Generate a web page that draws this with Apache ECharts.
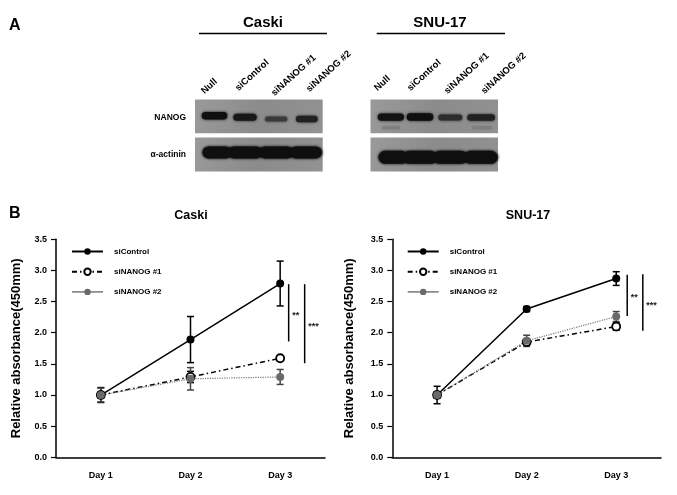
<!DOCTYPE html>
<html><head><meta charset="utf-8">
<script src="https://cdn.jsdelivr.net/npm/echarts@6.0.0/dist/echarts.min.js"></script>
<style>html,body{margin:0;padding:0;background:#fff}#c{width:677px;height:495px}</style>
</head><body><div id="c"></div>
<script>
// ---------- data ----------
const days = ['Day 1', 'Day 2', 'Day 3'];
const seriesNames = ['siControl', 'siNANOG #1', 'siNANOG #2'];

const caskiControl = [1.00, 1.89, 2.79];
const caskiControlErr = [0.12, 0.37, 0.36];
const caskiNanog1 = [1.00, 1.29, 1.59];
const caskiNanog1Err = [0.05, 0.09, 0.04];
const caskiNanog2 = [1.00, 1.26, 1.29];
const caskiNanog2Err = [0.11, 0.18, 0.12];

const snuControl = [1.00, 2.38, 2.87];
const snuControlErr = [0.14, 0.04, 0.11];
const snuNanog1 = [1.00, 1.85, 2.10];
const snuNanog1Err = [0.05, 0.04, 0.06];
const snuNanog2 = [1.00, 1.87, 2.26];
const snuNanog2Err = [0.05, 0.09, 0.08];

const caskiSigLabels = ['**', '***'];
const caskiSigTop = [2.78, 2.78];
const caskiSigBottom = [1.86, 1.51];
const snuSigLabels = ['**', '***'];
const snuSigTop = [2.93, 2.94];
const snuSigBottom = [2.27, 2.03];

const laneLabels = ['Null', 'siControl', 'siNANOG #1', 'siNANOG #2'];
const caskiNanogBand = [1.00, 0.92, 0.55, 0.82];
const caskiActinBand = [1.00, 1.00, 1.00, 1.00];
const snuNanogBand = [0.97, 1.00, 0.68, 0.82];
const snuActinBand = [1.00, 1.00, 1.00, 1.00];
const blotRows = ['NANOG', 'α-actinin'];
const cellLines = ['Caski', 'SNU-17'];

// ---------- styles ----------
const FF = "'Liberation Sans', Arial, Helvetica, sans-serif";
const BLACK = '#000';
const GRAY = '#6a6a6a';
const chart = echarts.init(document.getElementById('c'));

function bandColor(v) {
  const g = Math.round(110 - 95 * v);
  return 'rgb(' + g + ',' + g + ',' + g + ')';
}

// ---------- panel A (blot) ----------
const graphics = [];
function txt(x, y, text, size, align, vAlign, rot) {
  graphics.push({
    type: 'text', x: x, y: y, rotation: rot || 0,
    style: { text: text, font: 'bold ' + size + 'px ' + FF, fill: BLACK, align: align, verticalAlign: vAlign }
  });
}
txt(9, 26, 'A', 16, 'left', 'middle');
txt(9, 214, 'B', 16, 'left', 'middle');

function blot(x0, x1, title, titleX, lineX0, lineX1, labelPos, nanog, actin, geom, actinY, actinH, faint) {
  txt(titleX, 23, title, 15, 'center', 'middle');
  graphics.push({ type: 'line', shape: { x1: lineX0, y1: 33.5, x2: lineX1, y2: 33.5 }, style: { stroke: BLACK, lineWidth: 1.5 } });
  laneLabels.forEach((l, i) => {
    txt(labelPos[i][0], labelPos[i][1], l, 9.5, 'left', 'bottom', 42 * Math.PI / 180);
  });
  [[99.5, 133.3], [137.6, 171.6]].forEach(([t, b]) => {
    graphics.push({
      type: 'rect', shape: { x: x0, y: t, width: x1 - x0, height: b - t },
      style: { fill: new echarts.graphic.LinearGradient(0, 0, 1, 1, [
        { offset: 0, color: '#9a9a9a' }, { offset: 0.5, color: '#8b8b8b' }, { offset: 1, color: '#929292' }]) }
    });
  });
  if (faint) {
    faint.forEach(f => {
      graphics.push({
        type: 'rect', shape: { x: f[0], y: f[2] - 1.5, width: f[1] - f[0], height: 3, r: 1.5 },
        style: { fill: '#7e7e7e', shadowBlur: 3, shadowColor: '#7e7e7e' }
      });
    });
  }
  nanog.forEach((v, i) => {
    const g = geom[i];
    const h = 2.4 + 5 * v;
    const c = bandColor(v);
    graphics.push({
      type: 'rect', shape: { x: g[0], y: g[2] - h / 2, width: g[1] - g[0], height: h, r: h / 2 },
      style: { fill: c, shadowBlur: 3, shadowColor: c }
    });
  });
  const a0 = geom[0][0] + 1, a1 = Math.min(geom[3][1] + 4, x1 - 0.5);
  const cA = bandColor(Math.max.apply(null, actin));
  graphics.push({
    type: 'rect', shape: { x: a0, y: actinY - actinH * 0.4, width: a1 - a0, height: actinH * 0.8, r: actinH * 0.4 },
    style: { fill: cA, shadowBlur: 3, shadowColor: cA }
  });
  actin.forEach((v, i) => {
    const g = geom[i];
    const cx = (g[0] + g[1]) / 2;
    const l = Math.max(cx - 17, a0), r = Math.min(cx + 17, a1);
    const c = bandColor(v);
    graphics.push({
      type: 'rect', shape: { x: l, y: actinY - actinH / 2, width: r - l, height: actinH, r: actinH / 2 },
      style: { fill: c, shadowBlur: 3, shadowColor: c }
    });
  });
}

txt(186, 118, blotRows[0], 8.5, 'right', 'middle');
txt(186, 155, blotRows[1], 8.5, 'right', 'middle');

blot(195, 322.7, cellLines[0], 263, 199, 327,
  [[206, 96], [240, 93], [276, 98], [311, 94]],
  caskiNanogBand, caskiActinBand,
  [[201.7, 227.3, 115.7], [233.3, 256.7, 117.3], [265, 287.3, 119], [296, 317.7, 119]],
  152.5, 12, null);
blot(370.5, 498, cellLines[1], 440, 376.7, 505,
  [[379, 93], [412, 93], [449, 96], [486, 96]],
  snuNanogBand, snuActinBand,
  [[377.7, 404, 117], [406.7, 433.3, 117], [438.3, 462.3, 117.5], [467.3, 495, 117.5]],
  157.3, 13, [[382, 400, 127.7], [472, 492, 127.7]]);

// ---------- panel B (charts) ----------
txt(191, 216, cellLines[0], 12.5, 'center', 'middle');
txt(528, 216, cellLines[1], 12.5, 'center', 'middle');

function errSeries(name, gi, vals, errs, color) {
  return {
    type: 'custom', name: name, xAxisIndex: gi, yAxisIndex: gi, z: 2,
    data: vals.map((v, i) => [i, v, errs[i]]),
    encode: { x: 0, y: 1 },
    renderItem: function (params, api) {
      const x = api.value(0), y = api.value(1), e = api.value(2);
      const t = api.coord([x, y + e]), b = api.coord([x, y - e]);
      const st = { stroke: color, lineWidth: 1.5 };
      return { type: 'group', children: [
        { type: 'line', shape: { x1: t[0], y1: t[1], x2: b[0], y2: b[1] }, style: st },
        { type: 'line', shape: { x1: t[0] - 3.5, y1: t[1], x2: t[0] + 3.5, y2: t[1] }, style: st },
        { type: 'line', shape: { x1: b[0] - 3.5, y1: b[1], x2: b[0] + 3.5, y2: b[1] }, style: st }
      ] };
    }
  };
}
function sigSeries(gi, labels, tops, bottoms, offsets) {
  return {
    type: 'custom', xAxisIndex: gi, yAxisIndex: gi, z: 4, silent: true,
    data: labels.map((l, i) => [2, tops[i], bottoms[i], i]),
    encode: { x: 0, y: 1 },
    renderItem: function (params, api) {
      const i = api.value(3);
      const t = api.coord([2, api.value(1)]), b = api.coord([2, api.value(2)]);
      const x = t[0] + offsets[i];
      return { type: 'group', children: [
        { type: 'line', shape: { x1: x, y1: t[1], x2: x, y2: b[1] }, style: { stroke: BLACK, lineWidth: 1.5 } },
        { type: 'text', x: x + 3.5, y: (t[1] + b[1]) / 2 + 2.5, style: { text: labels[i], font: 'bold 9px ' + FF, fill: '#222', align: 'left', verticalAlign: 'middle' } }
      ] };
    }
  };
}
function lineSeries(gi, name, data) {
  const base = { type: 'line', name: name, xAxisIndex: gi, yAxisIndex: gi, data: data, z: 3 };
  if (name === seriesNames[0]) {
    return Object.assign(base, { symbol: 'circle', symbolSize: 8, itemStyle: { color: BLACK }, lineStyle: { color: BLACK, width: 1.5, type: 'solid' } });
  } else if (name === seriesNames[1]) {
    return Object.assign(base, { symbol: 'circle', symbolSize: 8, itemStyle: { color: '#fff', borderColor: BLACK, borderWidth: 1.8 }, lineStyle: { color: BLACK, width: 1.5, type: [5, 3, 1.5, 3] } });
  }
  return Object.assign(base, { symbol: 'circle', symbolSize: 8, itemStyle: { color: GRAY }, lineStyle: { color: '#777', width: 1.2, type: [1.2, 1.2] } });
}

function xAxis(gi) {
  return {
    type: 'category', gridIndex: gi, data: days, boundaryGap: true,
    axisLine: { lineStyle: { color: BLACK, width: 1.5 } },
    axisTick: { alignWithLabel: true, length: 5, lineStyle: { color: BLACK, width: 1.2 } },
    axisLabel: { color: BLACK, fontWeight: 'bold', fontSize: 9, fontFamily: FF, margin: 14 },
    splitLine: { show: false }
  };
}
function yAxis(gi, gap) {
  return {
    type: 'value', gridIndex: gi, min: 0, max: 3.5, interval: 0.5,
    name: 'Relative absorbance(450mm)', nameLocation: 'middle', nameGap: gap,
    nameTextStyle: { color: BLACK, fontWeight: 'bold', fontSize: 13, fontFamily: FF },
    axisLine: { show: true, lineStyle: { color: BLACK, width: 1.5 } },
    axisTick: { show: true, length: 5, lineStyle: { color: BLACK, width: 1.2 } },
    axisLabel: { color: BLACK, fontWeight: 'bold', fontSize: 9, fontFamily: FF, margin: 9, formatter: v => v.toFixed(1) },
    splitLine: { show: false }
  };
}
function legend(left) {
  return {
    orient: 'vertical', left: left, top: 247.5, padding: 0, itemWidth: 31, itemHeight: 8, itemGap: 12,
    textStyle: { color: BLACK, fontWeight: 'bold', fontSize: 8, fontFamily: FF, padding: [0, 0, 0, 6] },
    data: [
      { name: seriesNames[0] },
      { name: seriesNames[1] },
      { name: seriesNames[2], lineStyle: { type: 'solid', width: 1.5, color: '#777' } }
    ],
    selectedMode: false
  };
}

const option = {
  animation: false,
  backgroundColor: '#fff',
  grid: [
    { left: 56, top: 239.3, width: 269, height: 218, outerBoundsMode: 'none', containLabel: false },
    { left: 392.3, top: 239.3, width: 268.7, height: 218, outerBoundsMode: 'none', containLabel: false }
  ],
  xAxis: [xAxis(0), xAxis(1)],
  yAxis: [yAxis(0, 33), yAxis(1, 36)],
  legend: [legend(71), legend(406.7)],
  series: [
    errSeries('e0', 0, caskiControl, caskiControlErr, BLACK),
    errSeries('e1', 0, caskiNanog1, caskiNanog1Err, BLACK),
    errSeries('e2', 0, caskiNanog2, caskiNanog2Err, '#444'),
    lineSeries(0, seriesNames[0], caskiControl),
    lineSeries(0, seriesNames[1], caskiNanog1),
    lineSeries(0, seriesNames[2], caskiNanog2),
    sigSeries(0, caskiSigLabels, caskiSigTop, caskiSigBottom, [8.5, 24.5]),
    errSeries('e3', 1, snuControl, snuControlErr, BLACK),
    errSeries('e4', 1, snuNanog1, snuNanog1Err, BLACK),
    errSeries('e5', 1, snuNanog2, snuNanog2Err, '#444'),
    lineSeries(1, seriesNames[0], snuControl),
    lineSeries(1, seriesNames[1], snuNanog1),
    lineSeries(1, seriesNames[2], snuNanog2),
    sigSeries(1, snuSigLabels, snuSigTop, snuSigBottom, [11, 26.6])
  ],
  graphic: graphics
};
chart.setOption(option);
</script>
</body></html>
